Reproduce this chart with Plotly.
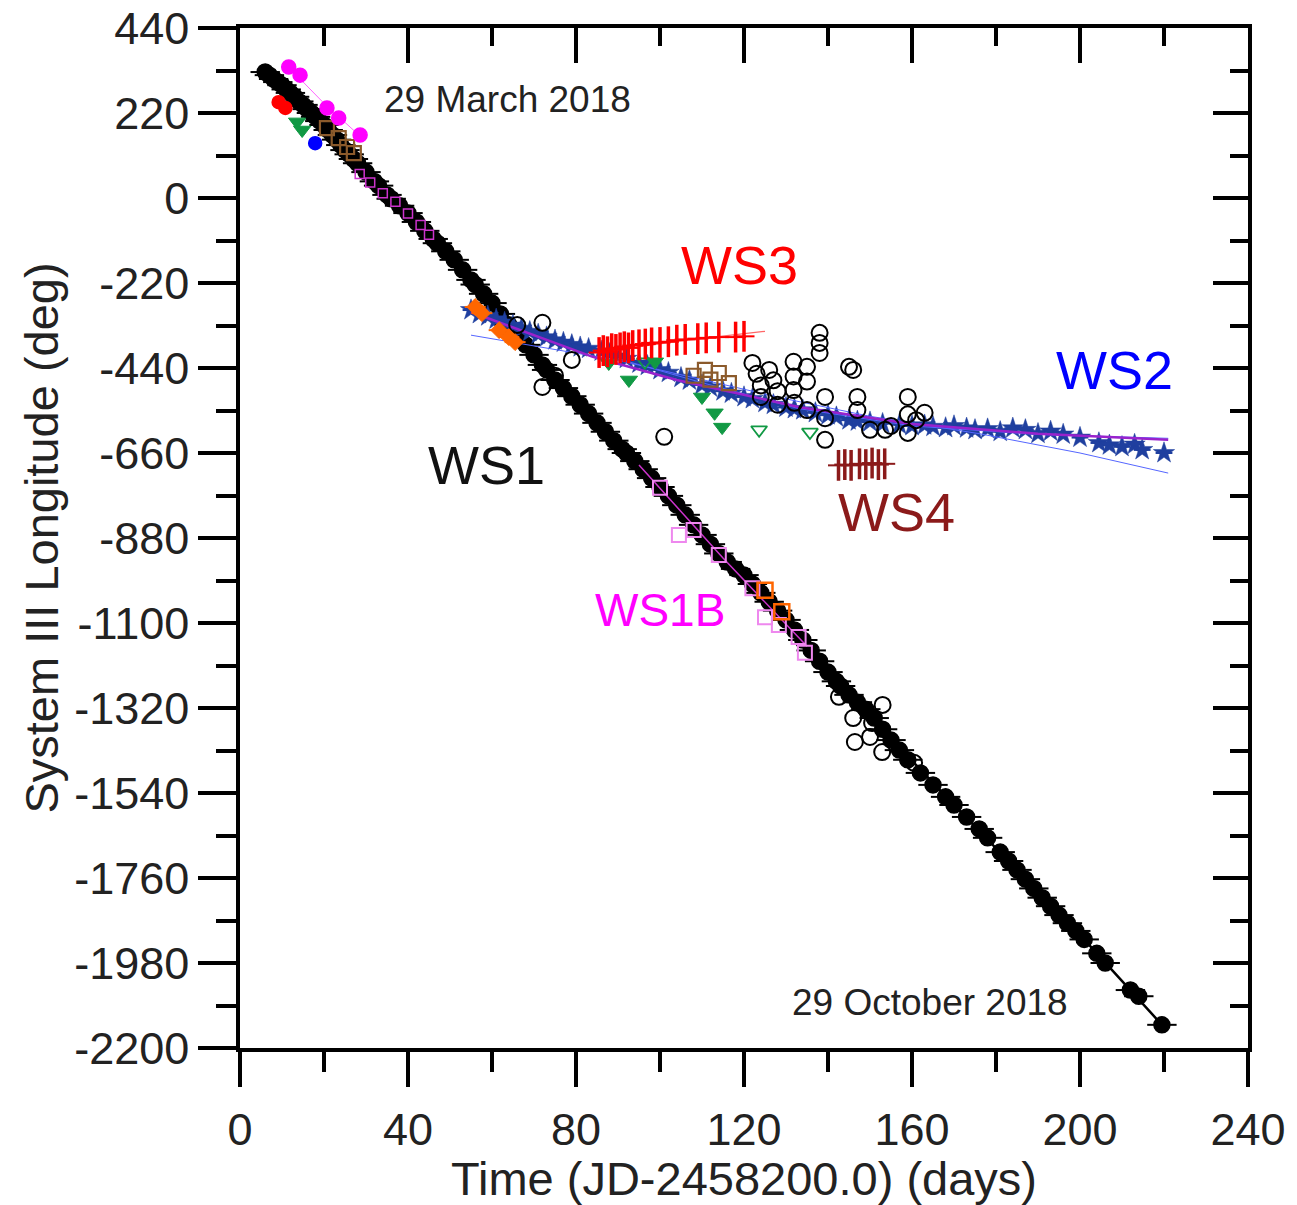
import plotly.graph_objects as go

# ---------------- data ----------------
ws1_x = [6, 7, 8, 9, 10, 11, 12, 13, 14, 15, 16, 17, 18, 19, 20, 21, 22, 23, 24, 25, 26, 27, 28, 30, 32, 33,
         35, 36, 38, 40, 42, 44, 46, 47, 49, 51, 53, 55, 56, 58, 60, 62, 64, 66, 68, 70, 72, 73, 75, 77, 79,
         81, 83, 85, 87, 89, 91, 92, 94, 96, 98, 100, 102, 104, 106, 108, 110, 112, 114, 116, 118, 120, 122,
         124, 126, 128, 130, 132, 134, 136, 138, 140, 142, 143, 145, 147, 149, 151, 153, 155, 157, 159, 162,
         165, 168, 170, 173, 176, 178, 181, 183, 185, 187, 189, 191, 193, 195, 197, 199, 201, 204, 206, 212,
         214, 219.5]
ws1_y = [326, 318, 308, 300, 292, 281, 272, 262, 250, 241, 230, 220, 210, 199, 189, 176, 163, 151, 137, 124,
         113, 101, 90, 67, 43, 32, 8, -2, -20, -39, -62, -85, -106, -117, -138, -160, -186, -212, -224, -248,
         -272, -300, -328, -354, -380, -406, -432, -445, -471, -492, -513, -535, -558, -582, -605, -628, -650,
         -660, -681, -702, -725, -748, -771, -795, -820, -846, -872, -896, -920, -942, -960, -976, -999,
         -1022, -1045, -1068, -1092, -1118, -1144, -1171, -1199, -1227, -1251, -1263, -1286, -1305, -1323,
         -1346, -1375, -1403, -1429, -1454, -1488, -1519, -1550, -1571, -1602, -1633, -1656, -1693, -1716,
         -1739, -1763, -1787, -1811, -1833, -1856, -1877, -1897, -1919, -1955, -1980, -2050, -2066, -2140]
ws1_xerr = 3.5

ws1_fit_x = [6, 30, 60, 90, 110, 140, 170, 200, 219.5]
ws1_fit_y = [326, 67, -272, -639, -872, -1227, -1571, -1907, -2140]

open_x = [66, 72, 72, 75, 79, 101, 122, 123, 124, 124, 126, 127, 128, 128, 131.8, 131.8, 131.8, 132, 135, 135,
          135, 138, 138, 138, 139.3, 139.3, 139.3, 145, 146, 147, 147, 150, 153.6, 155, 159, 159, 159, 161,
          163, 142.6, 146, 146.4, 150, 152.9, 153, 160.5, 150.5]
open_y = [-329, -323, -489, -460, -419, -618, -427, -455, -485, -515, -445, -472, -500, -535, -424, -462, -497,
          -530, -437, -475, -549, -349, -375, -401, -515, -570, -626, -437, -445, -515, -549, -600, -600, -590,
          -515, -560, -608, -575, -556, -1291, -1346, -1408, -1395, -1434, -1312, -1462, -1359]

ws2_x = [55, 57, 59, 61, 63, 65, 67, 69, 71, 73, 75, 77, 79, 81, 83, 86, 88, 90, 92, 95, 97, 100, 102, 105,
         107, 110, 112, 115, 117, 120, 122, 125, 127, 130, 132, 134, 137, 140, 142, 145, 147, 150, 153, 157,
         160, 163, 165, 168, 170, 173, 175, 178, 181, 184, 187, 190, 193, 196, 200, 204.5, 207, 210, 213,
         214.8, 220]
ws2_y = [-290, -300, -306, -314, -322, -330, -338, -346, -353, -360, -368, -374, -380, -386, -390, -397, -403,
         -410, -416, -428, -434, -445, -452, -465, -472, -484, -490, -500, -506, -515, -520, -530, -535, -542,
         -546, -549, -556, -562, -567, -575, -578, -580, -584, -587, -590, -588, -592, -595, -590, -596, -600,
         -598, -605, -596, -600, -610, -604, -612, -620, -634, -640, -644, -638, -652, -660]

ws2_fit_x = [55, 70, 84, 104, 133, 160, 190, 221]
ws2_fit_y = [-295, -355, -411, -471, -541, -585, -610, -626]
ws2_fitb_x = [55, 64, 75, 90, 110, 130, 150, 176, 200, 221]
ws2_fitb_y = [-355, -372, -392, -420, -470, -520, -565, -610, -660, -712]
ws2_fitc_x = [90, 110, 133, 160, 190, 221]
ws2_fitc_y = [-416, -478, -545, -590, -612, -622]

ws3_x = [85.5, 86.5, 87.5, 88.5, 89.5, 90.5, 91.5, 92.5, 93.5, 95, 96.5, 98, 100, 102, 104, 106, 109, 111,
         114, 118, 120]
ws3_y = [-400, -395, -398, -390, -392, -388, -385, -388, -382, -380, -378, -375, -374, -372, -368, -366, -364,
         -362, -360, -360, -358]
ws3_fit_x = [85, 105, 125]
ws3_fit_y = [-400, -370, -345]

ws4_x = [142.5, 144, 145.5, 147.5, 149, 150.5, 152, 153.5]
ws4_y = [-692, -690, -692, -688, -690, -686, -690, -688]

ws1b_x = [100, 104.5, 108, 114, 122, 125, 128.3, 133, 134.5]
ws1b_y = [-750, -872, -859, -924, -1010, -1085, -1105, -1136, -1177]
ws1b_fit_x = [95, 115, 135]
ws1b_fit_y = [-691, -932, -1160]

early_mag_x = [28.5, 31, 34, 37, 40, 43, 45]
early_mag_y = [62, 40, 12, -10, -40, -70, -95]

mag_fill_x = [11.6, 14.3, 20.7, 23.5, 28.6]
mag_fill_y = [339, 318, 233, 207, 163]
mag_fit_x = [11, 20, 28.6]
mag_fit_y = [345, 245, 160]

red_fill_x = [9.2, 10.8]
red_fill_y = [248, 233]
blue_fill_x = [17.9]
blue_fill_y = [142]

green_fill_x = [13.6, 14.8, 87.8, 92.6, 98.8, 110, 113, 114.8]
green_fill_y = [197, 176, -427, -471, -424, -515, -556, -593]
green_open_x = [96.4, 123.6, 135.7]
green_open_y = [-424, -600, -606]

brown_x = [20.7, 23.5, 25.5, 27.1, 108, 110.7, 112, 114, 116.4]
brown_y = [181, 155, 132, 116, -460, -445, -470, -453, -479]

orange_fill_x = [56, 57.6, 61.7, 64, 65.5]
orange_fill_y = [-282, -298, -342, -360, -373]
orange_open_x = [125, 129]
orange_open_y = [-1015, -1071]

y_ticks = [440, 220, 0, -220, -440, -660, -880, -1100, -1320, -1540, -1760, -1980, -2200]
y_ticktext = ["440", "220", "0", "-220", "-440", "-660", "-880", "-1100", "-1320", "-1540", "-1760",
              "-1980", "-2200"]
y_minor = [330, 110, -110, -330, -550, -770, -990, -1210, -1430, -1650, -1870, -2090]
x_ticks = [0, 40, 80, 120, 160, 200, 240]

# ---------------- figure ----------------
FONT = "Liberation Sans, Arial, sans-serif"
fig = go.Figure()

def line(x, y, color, width=1.5):
    fig.add_trace(go.Scatter(x=x, y=y, mode="lines", line=dict(color=color, width=width),
                             showlegend=False, hoverinfo="skip"))

def pts(x, y, symbol, color, size, lw=1.5, lc=None, xerr=None, errcolor=None):
    kw = {}
    if xerr is not None:
        kw["error_x"] = dict(type="constant", value=xerr, color=errcolor or color, thickness=2, width=0)
    fig.add_trace(go.Scatter(x=x, y=y, mode="markers",
                             marker=dict(symbol=symbol, color=color, size=size,
                                         line=dict(color=lc or color, width=lw)),
                             showlegend=False, **kw))

# WS1 main track
line(ws1_fit_x, ws1_fit_y, "black", 2.5)
pts(ws1_x, ws1_y, "circle", "black", 16, xerr=ws1_xerr, errcolor="black")
line(ws1b_fit_x, ws1b_fit_y, "#cc33cc", 1.5)
pts(early_mag_x, early_mag_y, "square-open", "#cc33cc", 9, lw=1.5)
# WS1B
pts(ws1b_x, ws1b_y, "square-open", "#ee88ee", 14, lw=2)
pts(orange_open_x, orange_open_y, "square-open", "#ff6600", 15, lw=2.5)

# WS2
pts(ws2_x, ws2_y, "star", "#1f3f9f", 16, lw=0.5, xerr=2, errcolor="#1f3f9f")
line(ws2_fitb_x, ws2_fitb_y, "#5566ff", 1)
line(ws2_fitc_x, ws2_fitc_y, "#5566ff", 1)
line(ws2_fit_x, ws2_fit_y, "#9922cc", 2.5)

# open circles
pts(open_x, open_y, "circle-open", "black", 16, lw=2)

# green triangles
pts(green_fill_x, green_fill_y, "triangle-down", "#119944", 15, lw=1)
pts(green_open_x, green_open_y, "triangle-down-open", "#119944", 14, lw=1.8)

# brown squares
pts(brown_x, brown_y, "square-open", "#8b5a2b", 14, lw=2.2)

# orange filled
pts(orange_fill_x, orange_fill_y, "diamond", "#ff6600", 13, lw=1, xerr=2.5, errcolor="#ff6600")

# early spots
line(mag_fit_x, mag_fit_y, "#ff66ff", 1)
pts(mag_fill_x, mag_fill_y, "circle", "#ff00ff", 14)
pts(red_fill_x, red_fill_y, "circle", "#ff0000", 13)
pts(blue_fill_x, blue_fill_y, "circle", "#0000ff", 13)

# WS3
line(ws3_fit_x, ws3_fit_y, "#ff6666", 1.2)
pts(ws3_x, ws3_y, "line-ns", "#ff0000", 22, lw=3.5, xerr=2.5, errcolor="#ff0000")

# WS4
pts(ws4_x, ws4_y, "line-ns", "#8b1a1a", 22, lw=3.5, xerr=2.5, errcolor="#8b1a1a")

# invisible trace for mirrored axes
fig.add_trace(go.Scatter(x=[0], y=[0], xaxis="x2", yaxis="y2", mode="markers",
                         marker=dict(opacity=0), showlegend=False, hoverinfo="skip"))

tickfont = dict(family=FONT, size=45, color="#222222")
fig.update_layout(
    width=1289, height=1197,
    margin=dict(l=232, r=49, t=20, b=157, autoexpand=False),
    plot_bgcolor="white", paper_bgcolor="white",
    showlegend=False,
    xaxis=dict(range=[0, 240], tickvals=x_ticks, ticks="outside", ticklen=35, tickwidth=3.5,
               tickcolor="black", showline=True, linecolor="black", linewidth=3.5, showgrid=False,
               zeroline=False, tickfont=tickfont, ticklabelstandoff=4, automargin=False,
               ticklabeloverflow="allow",
               minor=dict(ticks="outside", dtick=20, ticklen=20, tickwidth=3.5, tickcolor="black"),
               title=dict(text="Time (JD-2458200.0) (days)", font=dict(family=FONT, size=47, color="#222222"),
                          standoff=2)),
    yaxis=dict(range=[-2200, 440], tickvals=y_ticks, ticktext=y_ticktext, ticks="outside", ticklen=38,
               tickwidth=3.5, tickcolor="black", showline=True, linecolor="black", linewidth=3.5,
               showgrid=False, zeroline=False, tickfont=tickfont, automargin=False, ticklabelstandoff=0,
               ticklabeloverflow="allow",
               minor=dict(ticks="outside", tickvals=y_minor, ticklen=20, tickwidth=3.5, tickcolor="black"),
               title=dict(text="System III Longitude (deg)", font=dict(family=FONT, size=47, color="#222222"),
                          standoff=2)),
    xaxis2=dict(overlaying="x", side="top", matches="x", range=[0, 240], tickvals=x_ticks, ticks="inside",
                ticklen=35, tickwidth=3.5, tickcolor="black", showticklabels=False, showline=True,
                linecolor="black", linewidth=3.5, showgrid=False, zeroline=False, automargin=False,
                minor=dict(ticks="inside", dtick=20, ticklen=18, tickwidth=3.5, tickcolor="black")),
    yaxis2=dict(overlaying="y", side="right", matches="y", range=[-2200, 440], tickvals=y_ticks,
                ticks="inside", ticklen=35, tickwidth=3.5, tickcolor="black", showticklabels=False,
                showline=True, linecolor="black", linewidth=3.5, showgrid=False, zeroline=False,
                automargin=False,
                minor=dict(ticks="inside", tickvals=y_minor, ticklen=18, tickwidth=3.5, tickcolor="black")),
)

labels = [
    ("29 March 2018", 63.6, 254, 37, "#222222"),
    ("29 October 2018", 164.3, -2083, 37, "#222222"),
    ("WS3", 119, -173, 54, "#ff0000"),
    ("WS2", 208.3, -445, 54, "#0000ff"),
    ("WS1", 58.6, -691, 54, "#111111"),
    ("WS4", 156.4, -813, 54, "#8b1a1a"),
    ("WS1B", 100, -1066, 46, "#ff00ff"),
]
for text, x, y, size, color in labels:
    fig.add_annotation(x=x, y=y, text=text, showarrow=False, xanchor="center", yanchor="middle",
                       font=dict(family=FONT, size=size, color=color))

fig.write_html("out.html")
